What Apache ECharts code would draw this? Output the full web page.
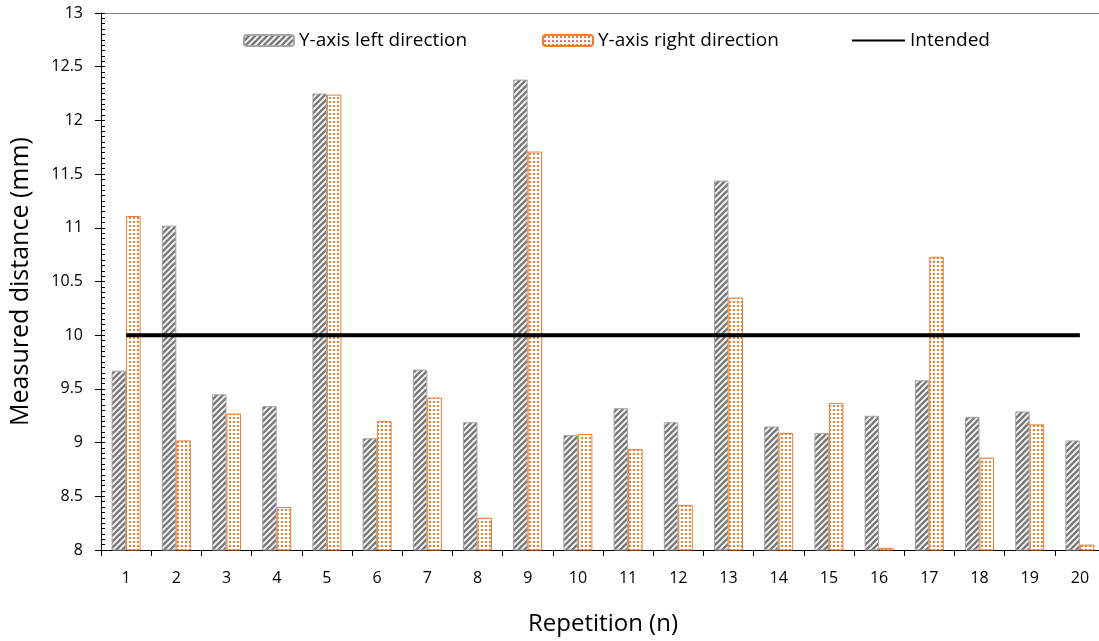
<!DOCTYPE html>
<html>
<head>
<meta charset="utf-8">
<script src="https://cdn.jsdelivr.net/npm/echarts@6/dist/echarts.min.js"></script>
<style>
  html, body { margin: 0; padding: 0; background: #fff; overflow: hidden; }
  #chart { width: 1105px; height: 641px; }
</style>
</head>
<body>
<div id="chart"></div>
<script>
// Repetition numbers along the x-axis
const repetitions = ['1','2','3','4','5','6','7','8','9','10','11','12','13','14','15','16','17','18','19','20'];
// Measured distance (mm) for each direction
const leftDirection  = [9.67, 11.02, 9.45, 9.34, 12.25, 9.04, 9.68, 9.19, 12.38, 9.07, 9.32, 9.19, 11.44, 9.15, 9.09, 9.25, 9.58, 9.24, 9.29, 9.02];
const rightDirection = [11.11, 9.02, 9.27, 8.40, 12.24, 9.20, 9.42, 8.30, 11.71, 9.08, 8.94, 8.42, 10.35, 9.09, 9.37, 8.02, 10.73, 8.86, 9.17, 8.05];
// Intended distance (mm)
const intendedValue = 10;
const intended = repetitions.map(() => intendedValue);

const seriesNames = ['Y-axis left direction', 'Y-axis right direction', 'Intended'];

// Fill patterns for the bars
function stripePattern() {
  const c = document.createElement('canvas');
  c.width = 6; c.height = 6;
  const g = c.getContext('2d');
  g.fillStyle = '#ffffff';
  g.fillRect(0, 0, 6, 6);
  g.strokeStyle = '#7a7a7a';
  g.lineWidth = 2.6;
  [-6, 0, 6].forEach((dx) => {
    g.beginPath();
    g.moveTo(dx - 1, 7);
    g.lineTo(dx + 7, -1);
    g.stroke();
  });
  return c;
}
function dotPattern() {
  const c = document.createElement('canvas');
  c.width = 4; c.height = 4;
  const g = c.getContext('2d');
  g.fillStyle = '#ffffff';
  g.fillRect(0, 0, 4, 4);
  g.fillStyle = '#ed7d31';
  g.fillRect(1, 1, 2, 2);
  return c;
}

const FONT = '"Open Sans", "DejaVu Sans", sans-serif';

const chart = echarts.init(document.getElementById('chart'), null, { renderer: 'canvas' });

const legendBase = {
  top: 31,
  padding: 0,
  itemWidth: 50,
  itemHeight: 11,
  textStyle: { fontFamily: FONT, fontSize: 19, color: '#000' },
  selectedMode: false
};

chart.setOption({
  backgroundColor: '#ffffff',
  animation: false,
  legend: [
    Object.assign({}, legendBase, { left: 243, data: [seriesNames[0]] }),
    Object.assign({}, legendBase, { left: 542, data: [seriesNames[1]] }),
    Object.assign({}, legendBase, {
      left: 852, itemWidth: 53, itemHeight: 11,
      data: [{ name: seriesNames[2], icon: 'path://M0,4.5L53,4.5L53,6.5L0,6.5Z' }]
    })
  ],
  grid: { left: 101, right: 0, top: 13, bottom: 90, containLabel: false },
  xAxis: [
    {
      type: 'category',
      data: repetitions,
      boundaryGap: true,
      position: 'bottom',
      axisLine: { lineStyle: { color: '#000', width: 1 } },
      axisTick: { show: true, inside: false, length: 6, alignWithLabel: false, lineStyle: { color: '#000' } },
      axisLabel: { fontFamily: FONT, fontSize: 16, color: '#000', margin: 20 },
      name: 'Repetition (n)',
      nameLocation: 'middle',
      nameGap: 62,
      nameTextStyle: { fontFamily: FONT, fontSize: 24, color: '#000' }
    },
    {
      type: 'category',
      data: repetitions,
      position: 'top',
      axisLine: { show: true, lineStyle: { color: '#868686', width: 1 } },
      axisTick: { show: false },
      axisLabel: { show: false }
    }
  ],
  yAxis: [
    {
      type: 'value',
      min: 8,
      max: 13,
      interval: 0.5,
      position: 'left',
      axisLine: { show: true, lineStyle: { color: '#000', width: 1 } },
      axisTick: { show: true, inside: false, length: 6, lineStyle: { color: '#000' } },
      minorTick: { show: false },
      splitLine: { show: false },
      axisLabel: { fontFamily: FONT, fontSize: 16, color: '#000', margin: 18 },
      name: 'Measured distance (mm)',
      nameLocation: 'middle',
      nameGap: 68,
      nameRotate: 90,
      nameTextStyle: { fontFamily: FONT, fontSize: 25, color: '#000' }
    },
    {
      type: 'value',
      min: 8,
      max: 13,
      interval: 0.5,
      position: 'left',
      offset: 0,
      axisLine: { show: false },
      axisTick: { show: true, inside: true, length: 4, lineStyle: { color: '#000' } },
      minorTick: { show: true, splitNumber: 10, length: 4, lineStyle: { color: '#000' } },
      splitLine: { show: false },
      axisLabel: { show: false }
    }
  ],
  series: [
    {
      name: seriesNames[0],
      type: 'bar',
      data: leftDirection,
      barWidth: 14.5,
      barGap: '0%',
      itemStyle: {
        color: { image: stripePattern(), repeat: 'repeat' },
        borderColor: '#a5a5a5',
        borderWidth: 1
      }
    },
    {
      name: seriesNames[1],
      type: 'bar',
      data: rightDirection,
      barWidth: 14.5,
      barGap: '0%',
      itemStyle: {
        color: { image: dotPattern(), repeat: 'repeat' },
        borderColor: '#ed7d31',
        borderWidth: 1
      }
    },
    {
      name: seriesNames[2],
      type: 'line',
      data: intended,
      symbol: 'none',
      lineStyle: { color: '#000', width: 4 },
      itemStyle: { color: '#000' },
      z: 5
    }
  ]
});
</script>
</body>
</html>
